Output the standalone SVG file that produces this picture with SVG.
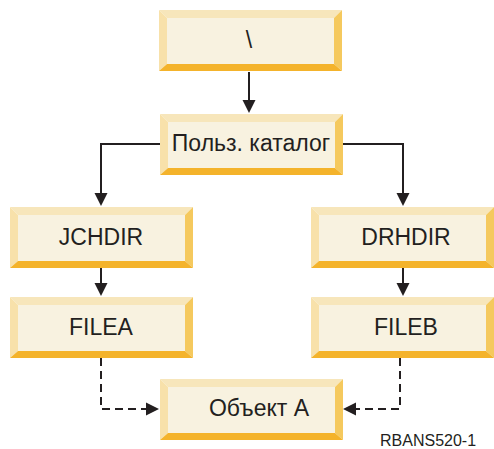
<svg xmlns="http://www.w3.org/2000/svg" xmlns:xlink="http://www.w3.org/1999/xlink" width="494" height="449" viewBox="0 0 494 449">
  <style>
    .lbl { font-family: "Liberation Sans", Arial, sans-serif; font-size: 23px; fill: #231f20; text-anchor: middle; }
    .fig { font-family: "Liberation Sans", Arial, sans-serif; font-size: 16px; fill: #231f20; }
    .conn { fill: none; stroke: #231f20; stroke-width: 2; }
    .dash { stroke-dasharray: 8 5; }
  </style>
  <defs>
    <!-- beveled box, 183 x 61 -->
    <symbol id="bevel" viewBox="0 0 183 61" width="183" height="61" overflow="visible">
      <rect x="8" y="8" width="167" height="46" fill="#f8f2e0"/>
      <polygon points="0,0 183,0 175,8 8,8" fill="#f7e6bb"/>
      <polygon points="0,0 8,8 8,54 0,61" fill="#f8e1aa"/>
      <polygon points="183,0 183,61 175,54 175,8" fill="#f5c95e"/>
      <polygon points="0,61 8,54 175,54 183,61" fill="#f4b32b"/>
    </symbol>
    <marker id="arrow" markerUnits="userSpaceOnUse" markerWidth="13" markerHeight="13" refX="0" refY="6.5" orient="auto" overflow="visible">
      <path d="M0,0 L13,6.5 L0,13 Z" fill="#231f20"/>
    </marker>
  </defs>

  <g id="connectors">
    <path class="conn" d="M249,72 V100" marker-end="url(#arrow)"/>
    <path class="conn" d="M160,144 H101 V193" marker-end="url(#arrow)"/>
    <path class="conn" d="M343,144 H403 V193" marker-end="url(#arrow)"/>
    <path class="conn" d="M101,268 V283" marker-end="url(#arrow)"/>
    <path class="conn" d="M403,268 V283" marker-end="url(#arrow)"/>
    <path class="conn dash" d="M101,358 V409 H146" marker-end="url(#arrow)"/>
    <path class="conn dash" d="M400,358 V409 H356" marker-end="url(#arrow)"/>
  </g>

  <g id="root">
    <use xlink:href="#bevel" x="159" y="10"/>
    <text class="lbl" x="249" y="48">\</text>
  </g>
  <g id="user-dir">
    <use xlink:href="#bevel" x="160" y="114"/>
    <text class="lbl" x="251" y="151">Польз. каталог</text>
  </g>
  <g id="jchdir">
    <use xlink:href="#bevel" x="10" y="207"/>
    <text class="lbl" x="101" y="245">JCHDIR</text>
  </g>
  <g id="drhdir">
    <use xlink:href="#bevel" x="311" y="207"/>
    <text class="lbl" x="406" y="245">DRHDIR</text>
  </g>
  <g id="filea">
    <use xlink:href="#bevel" x="10" y="297"/>
    <text class="lbl" x="101" y="335">FILEA</text>
  </g>
  <g id="fileb">
    <use xlink:href="#bevel" x="311" y="297"/>
    <text class="lbl" x="406" y="335">FILEB</text>
  </g>
  <g id="object-a">
    <use xlink:href="#bevel" x="160" y="379"/>
    <text class="lbl" x="259" y="416">Объект A</text>
  </g>

  <text class="fig" x="380" y="446">RBANS520-1</text>
</svg>
